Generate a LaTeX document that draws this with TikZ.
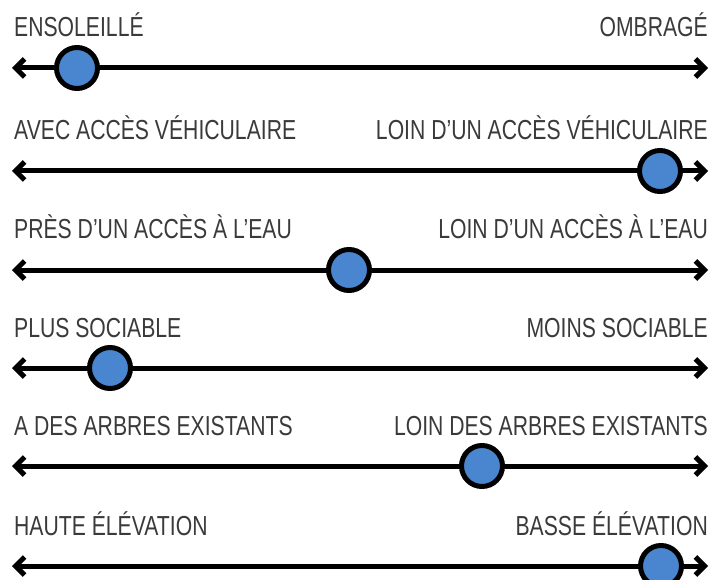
\documentclass[tikz,border=0pt]{standalone}
\usepackage{fontspec}
\setmainfont{Liberation Sans}[FakeStretch=0.77]
\usetikzlibrary{arrows.meta}
\definecolor{knob}{HTML}{4A86CF}
\definecolor{ink}{HTML}{3A3A3A}
\tikzset{
  scale line/.style={line width=5pt, {Straight Barb[length=9pt,width=18pt]}-{Straight Barb[length=9pt,width=18pt]}},
  knobdot/.style={circle, draw=black, line width=5pt, fill=knob, minimum size=41pt, inner sep=0pt},
  lefttag/.style={anchor=base west, inner sep=0pt, text=ink, font=\fontsize{27.5}{27.5}\selectfont},
  righttag/.style={anchor=base east, inner sep=0pt, text=ink, font=\fontsize{27.5}{27.5}\selectfont},
}
\begin{document}
\begin{tikzpicture}[x=1pt,y=-1pt]
\useasboundingbox (0,0) rectangle (712,580);
\foreach \row/\yy/\kx/\ltxt/\rtxt in {
  1/68/77/{ENSOLEILLÉ}/{OMBRAGÉ},
  2/171/660/{AVEC ACCÈS VÉHICULAIRE}/{LOIN D’UN ACCÈS VÉHICULAIRE},
  3/270/349/{PRÈS D’UN ACCÈS À L’EAU}/{LOIN D’UN ACCÈS À L’EAU},
  4/368/110/{PLUS SOCIABLE}/{MOINS SOCIABLE},
  5/466/482/{A DES ARBRES EXISTANTS}/{LOIN DES ARBRES EXISTANTS},
  6/566/661/{HAUTE ÉLÉVATION}/{BASSE ÉLÉVATION}} {
  \coordinate (a\row) at (12,\yy);
  \coordinate (b\row) at (708,\yy);
  \node[lefttag] (l\row) at (14,\yy-31) {\ltxt};
  \node[righttag] (r\row) at (708,\yy-31) {\rtxt};
  \draw[scale line] (a\row) -- (b\row);
  \node[knobdot] (k\row) at (\kx,\yy) {};
}
\end{tikzpicture}
\end{document}
